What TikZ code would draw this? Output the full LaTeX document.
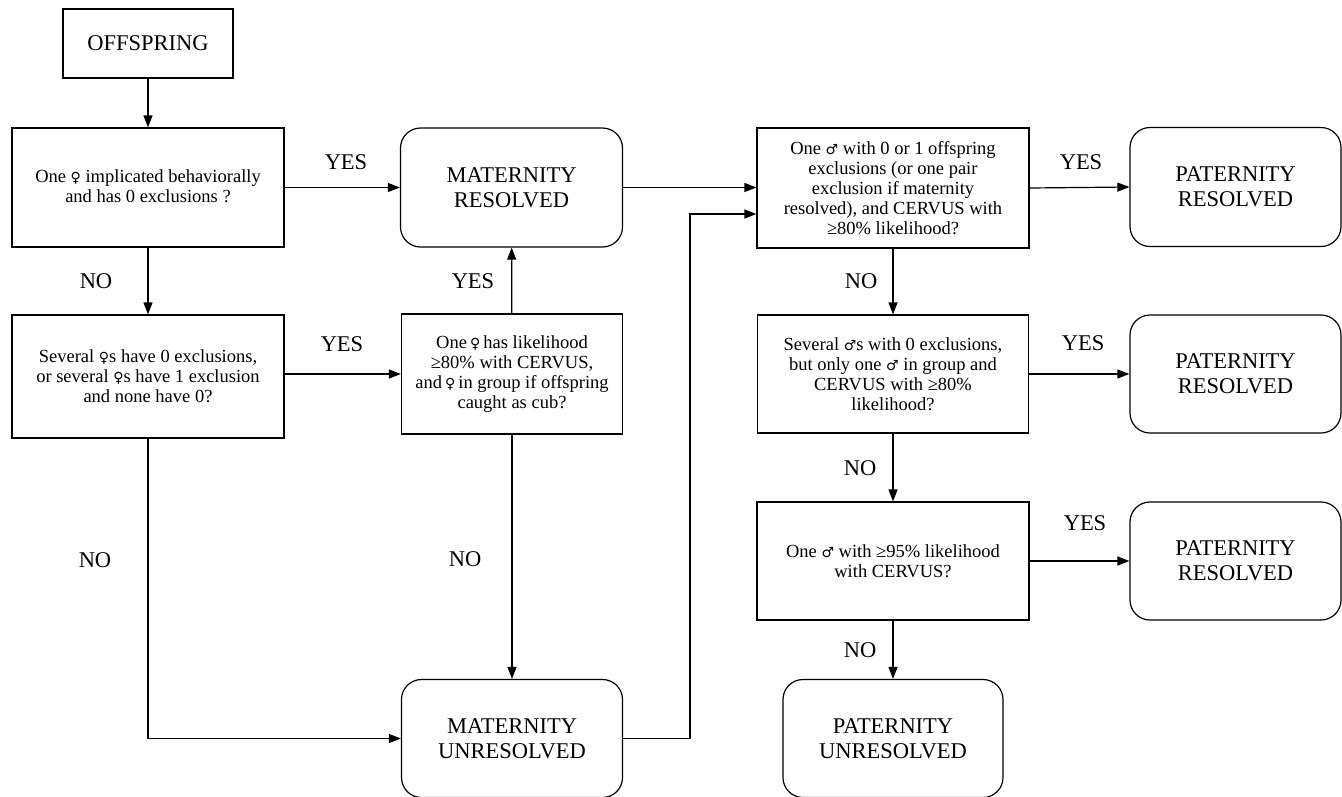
\documentclass[tikz,border=0pt]{standalone}
\usepackage{fontspec}
\setmainfont{Liberation Serif}
\newfontfamily\symfont{DejaVu Sans}
\newcommand{\fsym}{{\symfont\fontsize{14}{14}\selectfont ♀}}
\newcommand{\msym}{{\symfont\fontsize{14}{14}\selectfont ♂}}
\usetikzlibrary{arrows.meta}
\tikzset{
  qbox/.style={draw, line width=1.2pt, align=center, font=\fontsize{18.5}{20}\selectfont, inner sep=2pt},
  endbox/.style={draw, line width=1.2pt, rounded corners=20pt, align=center, font=\fontsize{22.5}{25}\selectfont},
  lbl/.style={font=\fontsize{22.5}{23}\selectfont, inner sep=0pt},
  arr/.style={line width=1.2pt, -{Triangle[length=12pt,width=9pt]}},
}
\begin{document}
\begin{tikzpicture}[x=1pt,y=-1pt]
\useasboundingbox (0,0) rectangle (1342,796);
% nodes
\node[qbox, minimum width=170pt, minimum height=69pt, font=\fontsize{22.5}{23}\selectfont] (off) at (148,43.5) {OFFSPRING};
\node[qbox, minimum width=272pt, minimum height=119pt, text depth=2pt] (b1) at (148,187.5) {One \fsym\ implicated behaviorally\\and has 0 exclusions ?};
\node[qbox, minimum width=272pt, minimum height=123pt] (b2) at (148,376.5) {Several \fsym s have 0 exclusions,\\or several \fsym s have 1 exclusion\\and none have 0?};
\node[qbox, minimum width=221pt, minimum height=120pt] (b3) at (512,374) {One\,\fsym\,has likelihood\\≥80\% with CERVUS,\\and\,\fsym\,in group if offspring\\caught as cub?};
\node[endbox, minimum width=222pt, minimum height=119pt] (mr) at (511.5,187.5) {MATERNITY\\RESOLVED};
\node[endbox, minimum width=221pt, minimum height=118pt] (mu) at (512,738.5) {MATERNITY\\UNRESOLVED};
\node[qbox, minimum width=272pt, minimum height=120pt] (p1) at (893,188) {One \msym\ with 0 or 1 offspring\\exclusions (or one pair\\exclusion if maternity\\resolved), and CERVUS with\\≥80\% likelihood?};
\node[qbox, minimum width=271pt, minimum height=118pt] (p2) at (893,374) {Several \msym s with 0 exclusions,\\but only one \msym\ in group and\\CERVUS with ≥80\%\\likelihood?};
\node[qbox, minimum width=272pt, minimum height=118pt] (p3) at (893,561) {One \msym\ with ≥95\% likelihood\\with CERVUS?};
\node[endbox, minimum width=211pt, minimum height=119pt] (pr1) at (1235.5,187) {PATERNITY\\RESOLVED};
\node[endbox, minimum width=211pt, minimum height=118pt] (pr2) at (1235.5,374) {PATERNITY\\RESOLVED};
\node[endbox, minimum width=211pt, minimum height=118pt] (pr3) at (1235.5,561) {PATERNITY\\RESOLVED};
\node[endbox, minimum width=220pt, minimum height=118pt] (pu) at (893,738.5) {PATERNITY\\UNRESOLVED};
\coordinate (j1) at (690,738.5);
\coordinate (j2) at (690,214);
% connectors
\draw[arr] (off) -- (b1);
\draw[arr] (b1.east) -- (mr.west);
\draw[arr] (b1) -- (b2);
\draw[arr] (b2.east |- b3.west) -- (b3.west);
\draw[arr] (b3) -- (mr);
\draw[arr] (b3) -- (mu);
\draw[arr] (b2.south) |- (mu.west);
\draw[arr] (mr.east) -- (mr.east -| p1.west);
\draw[arr] (mu.east |- j1) -- (j1) -- (j2) -- (j2 -| p1.west);
\draw[arr] (p1.east) -- (pr1.west);
\draw[arr] (p1) -- (p2);
\draw[arr] (p2.east) -- (pr2.west);
\draw[arr] (p2) -- (p3);
\draw[arr] (p3.east) -- (pr3.west);
\draw[arr] (p3) -- (pu);
% labels
\node[lbl] (l1) at (346,162) {YES};
\node[lbl] (l2) at (96,281) {NO};
\node[lbl] (l3) at (342,344) {YES};
\node[lbl] (l4) at (473,281) {YES};
\node[lbl] (l5) at (465,559) {NO};
\node[lbl] (l6) at (95,560) {NO};
\node[lbl] (l7) at (1081,162) {YES};
\node[lbl] (l8) at (861,281) {NO};
\node[lbl] (l9) at (1083,343) {YES};
\node[lbl] (l10) at (860,468) {NO};
\node[lbl] (l11) at (1085,523) {YES};
\node[lbl] (l12) at (860,650) {NO};
\end{tikzpicture}
\end{document}
